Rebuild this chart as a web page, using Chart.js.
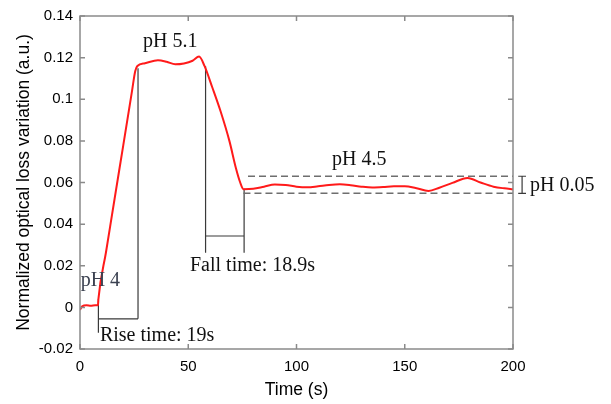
<!DOCTYPE html>
<html>
<head>
<meta charset="utf-8">
<title>pH step response</title>
<script src="https://cdn.jsdelivr.net/npm/chart.js@4"></script>
<style>
  body { margin: 0; background: #fff; }
  .chart-box { width: 611px; height: 404px; }
</style>
</head>
<body>
<div class="chart-box"><canvas id="myChart"></canvas></div>
<script>
/* values */
const timeSec = [0, 1, 3, 5, 7, 8.3, 8.5, 12, 16, 20, 24, 25.5, 26.5, 30, 36, 40, 44, 48, 52, 55, 57.5,
  61, 65, 69, 72, 74, 75.5, 80, 85, 90, 95, 100, 105, 110, 115, 120, 125, 130, 135,
  140, 145, 150, 155, 161, 166, 172, 179, 185, 191, 196, 200];
const lossVar = [-0.0012, 0.0005, 0.001, 0.0008, 0.001, 0.001, 0.004, 0.0265, 0.0523, 0.078, 0.1038,
  0.1135, 0.116, 0.1173, 0.1187, 0.118, 0.1168, 0.1172, 0.1185, 0.1205, 0.116,
  0.106, 0.094, 0.080, 0.067, 0.060, 0.0568, 0.0570, 0.0580, 0.0590, 0.0588, 0.0580, 0.0577,
  0.0582, 0.0588, 0.0591, 0.0587, 0.0580, 0.0576, 0.0578, 0.0582, 0.0582, 0.0574, 0.0559,
  0.0575, 0.0598, 0.0622, 0.0600, 0.0580, 0.0572, 0.0568];
const xTickValues = [0, 50, 100, 150, 200];
const yTickValues = [-0.02, 0, 0.02, 0.04, 0.06, 0.08, 0.1, 0.12, 0.14];

// band limits of the pH 4.5 plateau
const bandHigh = 0.063;
const bandLow = 0.0548;

/* annotation layout, in data units */
const notes = {
  texts: [
    { text: 'pH 5.1', t: 29.1, v: 0.1277, color: '#111' },
    { text: 'pH 4', t: 0.3, v: 0.013, color: '#3b4150' },
    { text: 'Rise time: 19s', t: 9.2, v: -0.0136, color: '#111' },
    { text: 'Fall time: 18.9s', t: 50.8, v: 0.0201, color: '#111' },
    { text: 'pH 4.5', t: 116.4, v: 0.0708, color: '#111' },
    { text: 'pH 0.05', t: 207.9, v: 0.0585, color: '#111' }
  ],
  // [t1, v1, t2, v2]
  segments: [
    [8.5, 0.004, 8.5, -0.0122],
    [26.8, 0.1149, 26.8, -0.0055],
    [8.5, -0.0055, 26.8, -0.0055],
    [58, 0.1158, 58, 0.0262],
    [75.8, 0.057, 75.8, 0.0262],
    [58, 0.0343, 75.8, 0.0343],
    [204.2, bandHigh, 204.2, bandLow],
    [202.4, bandHigh, 206, bandHigh],
    [202.4, bandLow, 206, bandLow]
  ],
  dashes: [
    [77.6, bandHigh, 200, bandHigh],
    [75.5, bandLow, 200, bandLow]
  ]
};

const chartApp = {
  /* brackets and dashed band, under the curve */
  bracketPlugin: {
    id: 'brackets',
    beforeDatasetsDraw(chart) {
      const { ctx, scales: { x, y } } = chart;
      ctx.save();
      ctx.strokeStyle = '#3a3a3a';
      ctx.lineWidth = 1.2;
      ctx.beginPath();
      notes.segments.forEach(function (s) {
        ctx.moveTo(x.getPixelForValue(s[0]), y.getPixelForValue(s[1]));
        ctx.lineTo(x.getPixelForValue(s[2]), y.getPixelForValue(s[3]));
      });
      ctx.stroke();

      ctx.strokeStyle = '#6e6e6e';
      ctx.lineWidth = 1.5;
      ctx.setLineDash([7, 4]);
      ctx.beginPath();
      notes.dashes.forEach(function (s) {
        ctx.moveTo(x.getPixelForValue(s[0]), y.getPixelForValue(s[1]));
        ctx.lineTo(x.getPixelForValue(s[2]), y.getPixelForValue(s[3]));
      });
      ctx.stroke();
      ctx.restore();
    }
  },

  /* matlab style box with inward ticks + text labels */
  framePlugin: {
    id: 'frame',
    afterDraw(chart) {
      const { ctx, chartArea: a, scales: { x, y } } = chart;
      ctx.save();
      ctx.strokeStyle = '#8a8a8a';
      ctx.lineWidth = 1.5;
      ctx.strokeRect(a.left, a.top, a.right - a.left, a.bottom - a.top);
      ctx.beginPath();
      xTickValues.forEach(function (v) {
        const px = x.getPixelForValue(v);
        ctx.moveTo(px, a.bottom); ctx.lineTo(px, a.bottom - 5);
        ctx.moveTo(px, a.top); ctx.lineTo(px, a.top + 5);
      });
      yTickValues.forEach(function (v) {
        const py = y.getPixelForValue(v);
        ctx.moveTo(a.left, py); ctx.lineTo(a.left + 5, py);
        ctx.moveTo(a.right, py); ctx.lineTo(a.right - 5, py);
      });
      ctx.stroke();

      ctx.font = '20px "Liberation Serif", "Times New Roman", serif';
      ctx.textAlign = 'left';
      ctx.textBaseline = 'middle';
      notes.texts.forEach(function (n) {
        ctx.fillStyle = n.color;
        ctx.fillText(n.text, x.getPixelForValue(n.t), y.getPixelForValue(n.v));
      });
      ctx.restore();
    }
  },

  createChart: function () {
    const ctx = document.getElementById('myChart').getContext('2d');
    const points = timeSec.map(function (t, i) { return { x: t, y: lossVar[i] }; });
    const sans = '"Liberation Sans", Arial, sans-serif';

    return new Chart(ctx, {
      type: 'line',
      data: {
        datasets: [{
          data: points,
          borderColor: '#ff1a1a',
          borderWidth: 2,
          pointRadius: 0,
          cubicInterpolationMode: 'monotone'
        }]
      },
      options: {
        responsive: true,
        maintainAspectRatio: false,
        animation: false,
        layout: { padding: { left: 0, right: 98, top: 12, bottom: 0 } },
        plugins: { legend: { display: false }, tooltip: { enabled: false } },
        scales: {
          x: {
            type: 'linear',
            min: 0,
            max: 200,
            afterBuildTicks: function (scale) {
              scale.ticks = xTickValues.map(function (v) { return { value: v }; });
            },
            afterFit: function (scale) { scale.height = 55; },
            grid: { display: false, drawTicks: false },
            border: { display: false },
            ticks: { color: '#000', padding: 9, maxRotation: 0, font: { family: sans, size: 15 } },
            title: {
              display: true,
              text: 'Time (s)',
              color: '#000',
              padding: { top: 0, bottom: 3.5 },
              font: { family: sans, size: 17.5 }
            }
          },
          y: {
            min: -0.02,
            max: 0.14,
            afterBuildTicks: function (scale) {
              scale.ticks = yTickValues.map(function (v) { return { value: v }; });
            },
            afterFit: function (scale) { scale.width = 80; },
            grid: { display: false, drawTicks: false },
            border: { display: false },
            ticks: {
              color: '#000',
              padding: 7,
              font: { family: sans, size: 15 },
              callback: function (v) { return String(parseFloat(Number(v).toFixed(2))); }
            },
            title: {
              display: true,
              text: 'Normalized optical loss variation (a.u.)',
              color: '#000',
              padding: { top: 13.5, bottom: 0 },
              font: { family: sans, size: 17.5 }
            }
          }
        }
      },
      plugins: [this.bracketPlugin, this.framePlugin]
    });
  },

  init: function () {
    const thisApp = this;
    thisApp.createChart();
  }
};

chartApp.init();
</script>
</body>
</html>
